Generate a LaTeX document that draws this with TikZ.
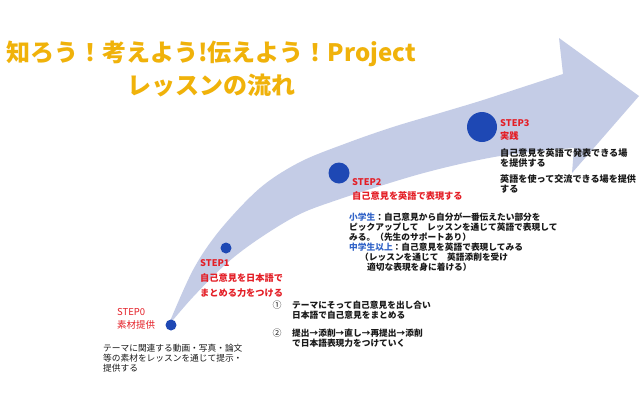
\documentclass[tikz,border=0pt]{standalone}
\usepackage{fontspec}
\newfontfamily\jp{Noto Sans CJK JP}
\definecolor{ttlc}{RGB}{240,178,10}
\definecolor{redc}{RGB}{228,30,38}
\definecolor{dotc}{RGB}{30,72,180}
\definecolor{bandc}{RGB}{196,204,230}
\definecolor{lbluec}{RGB}{50,100,200}
\definecolor{txtc}{RGB}{25,25,25}
\begin{document}
\begin{tikzpicture}[x=1pt,y=-1pt,
  ttl/.style={anchor=center,inner sep=0pt,text=ttlc,font=\jp\bfseries\fontsize{24}{27}\selectfont},
  redlbl/.style={anchor=west,inner sep=0pt,text=redc,font=\jp\bfseries\fontsize{9.2}{10}\selectfont},
  redthin/.style={anchor=west,inner sep=0pt,text=redc,font=\jp\fontsize{9.5}{10}\selectfont},
  desc/.style={anchor=west,inner sep=0pt,text=txtc,font=\jp\bfseries\fontsize{8.7}{10}\selectfont},
  desc3/.style={anchor=west,inner sep=0pt,text=txtc,font=\jp\bfseries\fontsize{9.1}{10}\selectfont},
  descthin/.style={anchor=west,inner sep=0pt,text=txtc,font=\jp\fontsize{8.7}{10}\selectfont},
  numlbl/.style={anchor=center,inner sep=0pt,text=txtc,font=\jp\fontsize{9}{10}\selectfont},
  dot/.style={circle,fill=dotc,inner sep=0pt}]
\useasboundingbox (0,0) rectangle (640,400);
\fill[white] (0,0) rectangle (640,400);
% curved arrow band
\fill[bandc] plot[smooth,tension=0.55] coordinates {(168,326) (193,270) (220,230) (260,188) (300,162) (347,143) (393,127) (440,113) (480,101) (520,88) (563,74)}
  -- (559,38) -- (639,96) -- (572,173) -- (574,148)
  -- plot[smooth,tension=0.55] coordinates {(574,148) (540,151) (500,156) (460,164) (420,174) (380,186) (340,199) (300,214) (260,238) (227,263) (193,297) (168,326)}
  -- cycle;
% title
\node[ttl] (t1) at (211,54) {知ろう！考えよう!伝えよう！Project};
\node[ttl] (t2) at (211,85) {レッスンの流れ};
% dots
\node[dot,minimum size=11pt] (c0) at (171,325) {};
\node[dot,minimum size=11pt] (c1) at (226,248) {};
\node[dot,minimum size=21pt] (c2) at (339,173) {};
\node[dot,minimum size=30pt] (c3) at (482,127) {};
% STEP0
\node[redthin] (s0a) at (117,312) {STEP0};
\node[redthin] (s0b) at (117,325) {素材提供};
\node[descthin] (s0c) at (103,348) {テーマに関連する動画・写真・論文};
\node[descthin] (s0d) at (103,358) {等の素材をレッスンを通じて提示・};
\node[descthin] (s0e) at (103,368) {提供する};
% STEP1
\node[redlbl] (s1a) at (200,263) {STEP1};
\node[redlbl] (s1b) at (200,278) {自己意見を日本語で};
\node[redlbl] (s1c) at (200,293) {まとめる力をつける};
% items
\node[numlbl] (n1) at (277,305) {①};
\node[desc] (i1a) at (292,305) {テーマにそって自己意見を出し合い};
\node[desc] (i1b) at (292,315) {日本語で自己意見をまとめる};
\node[numlbl] (n2) at (277,333) {②};
\node[desc] (i2a) at (292,333) {提出→添削→直し→再提出→添削};
\node[desc] (i2b) at (292,343) {で日本語表現力をつけていく};
% STEP2
\node[redlbl] (s2a) at (352,182) {STEP2};
\node[redlbl] (s2b) at (352,196) {自己意見を英語で表現する};
\node[desc] (d1) at (349,217) {\textcolor{lbluec}{小学生}：自己意見から自分が一番伝えたい部分を};
\node[desc] (d2) at (349,227) {ピックアップして　レッスンを通じて英語で表現して};
\node[desc] (d3) at (349,237) {みる。（先生のサポートあり）};
\node[desc] (d4) at (349,247) {\textcolor{lbluec}{中学生以上}：自己意見を英語で表現してみる};
\node[desc] (d5) at (360,257) {（レッスンを通じて　英語添削を受け};
\node[desc] (d6) at (367,267) {適切な表現を身に着ける）};
% STEP3
\node[redlbl] (s3a) at (500,123) {STEP3};
\node[redlbl] (s3b) at (500,136) {実践};
\node[desc3] (s3c) at (500,153) {自己意見を英語で発表できる場};
\node[desc3] (s3d) at (500,163) {を提供する};
\node[desc3] (s3e) at (500,179) {英語を使って交流できる場を提供};
\node[desc3] (s3f) at (500,189) {する};
\end{tikzpicture}
\end{document}
